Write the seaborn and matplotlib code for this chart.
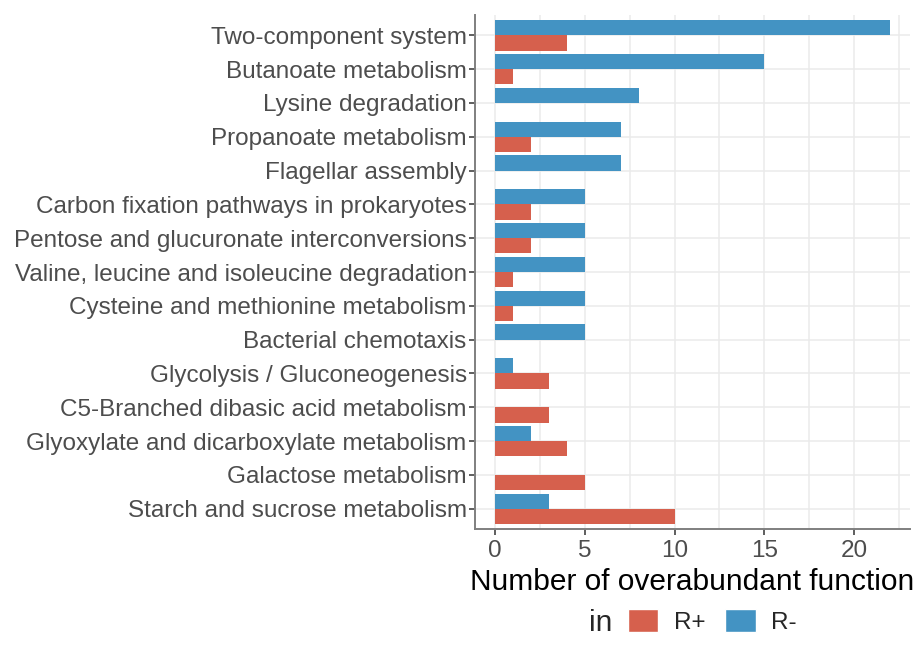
import matplotlib
matplotlib.use("Agg")
import matplotlib.pyplot as plt
from matplotlib.patches import Patch
from matplotlib.ticker import MultipleLocator
import pandas as pd
import seaborn as sns

# data
pathways = [
    "Two-component system",
    "Butanoate metabolism",
    "Lysine degradation",
    "Propanoate metabolism",
    "Flagellar assembly",
    "Carbon fixation pathways in prokaryotes",
    "Pentose and glucuronate interconversions",
    "Valine, leucine and isoleucine degradation",
    "Cysteine and methionine metabolism",
    "Bacterial chemotaxis",
    "Glycolysis / Gluconeogenesis",
    "C5-Branched dibasic acid metabolism",
    "Glyoxylate and dicarboxylate metabolism",
    "Galactose metabolism",
    "Starch and sucrose metabolism",
]
r_minus = [22, 15, 8, 7, 7, 5, 5, 5, 5, 5, 1, 0, 2, 0, 3]
r_plus = [4, 1, 0, 2, 0, 2, 2, 1, 1, 0, 3, 3, 4, 5, 10]
groups = ["R+", "R-"]
colors = {"R+": "#D6604D", "R-": "#4393C3"}

df = pd.DataFrame({
    "pathway": pathways * 2,
    "count": r_minus + r_plus,
    "group": ["R-"] * len(pathways) + ["R+"] * len(pathways),
})

sns.set_style("white")
plt.rcParams["font.family"] = ["Liberation Sans", "DejaVu Sans"]

fig = plt.figure(figsize=(9.18, 6.58), dpi=100)
ax = fig.add_axes([0.5174, 0.196, 0.4739, 0.7812])

sns.barplot(data=df, y="pathway", x="count", hue="group", order=pathways,
            hue_order=["R-", "R+"], palette=colors, saturation=1, width=0.9,
            orient="h", linewidth=0, errorbar=None, ax=ax, zorder=3)
ax.get_legend().remove()

ax.set_xlim(-1.1, 23.1)
ax.set_ylim(len(pathways) - 0.4, -0.6)
ax.xaxis.set_major_locator(MultipleLocator(5))
ax.xaxis.set_minor_locator(MultipleLocator(2.5))
ax.grid(True, which="major", color="#EBEBEB", linewidth=1.1, zorder=0)
ax.grid(True, which="minor", axis="x", color="#EBEBEB", linewidth=1.1, zorder=0)
ax.set_axisbelow(True)

for side in ["top", "right"]:
    ax.spines[side].set_visible(False)
for side in ["left", "bottom"]:
    ax.spines[side].set_color("#7F7F7F")
    ax.spines[side].set_linewidth(1.4)

ax.tick_params(axis="both", which="major", length=4, width=1.1, color="#333333",
               labelsize=17.5, labelcolor="#4D4D4D", pad=2, left=True, bottom=True)
ax.tick_params(axis="x", which="major", pad=4)
ax.tick_params(axis="x", which="minor", length=0)
ax.set_ylabel("")
ax.set_xlabel("Number of overabundant function", fontsize=21.5, color="black", labelpad=4)

# legend at the bottom, title on the left like ggplot
handles = [Patch(facecolor=colors[g], edgecolor="white", label=g) for g in groups]
fig.legend(handles=handles, loc="center left", bbox_to_anchor=(0.684, 0.056), ncol=2,
           frameon=False, fontsize=17.5, handlelength=1.25, handleheight=1.1,
           handletextpad=0.65, columnspacing=0.8, borderpad=0, borderaxespad=0)
fig.text(0.654, 0.053, "in", fontsize=21.5, va="center", ha="center")

fig.savefig("out.png", dpi=100)
